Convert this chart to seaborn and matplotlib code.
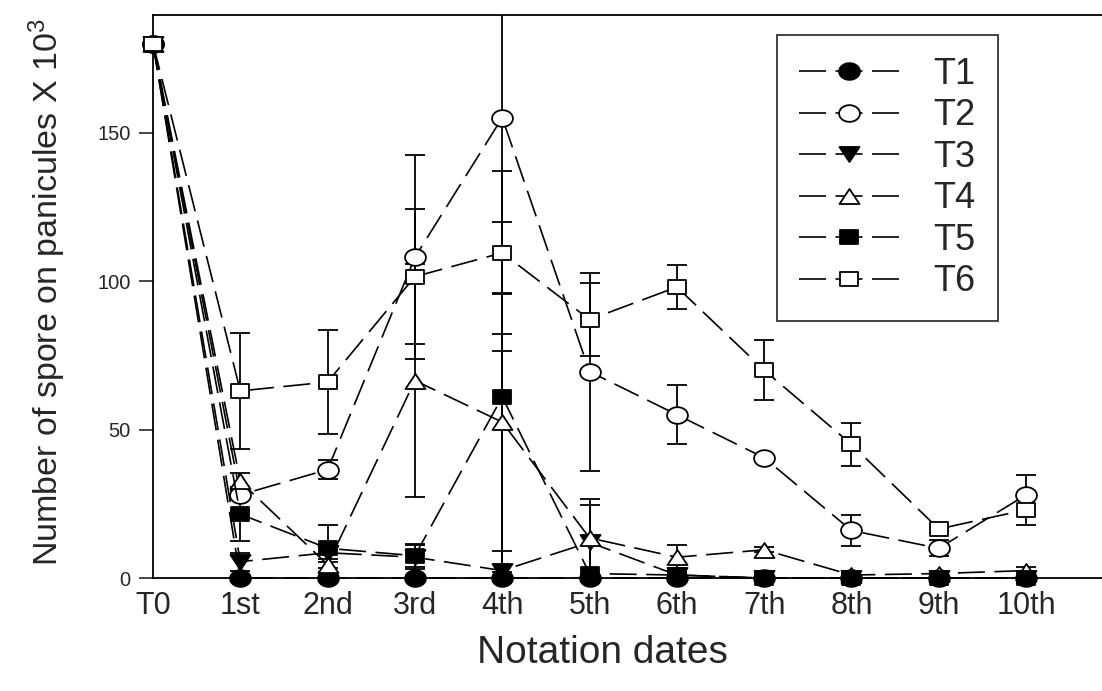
import matplotlib
matplotlib.use("Agg")
import matplotlib.pyplot as plt
from matplotlib.path import Path
import seaborn as sns
import numpy as np
import pandas as pd

# ---- data ----
dates = ["T0", "1st", "2nd", "3rd", "4th", "5th", "6th", "7th", "8th", "9th", "10th"]
T1 = [180, 0, 0, 0, 0, 0, 0, 0, 0, 0, 0]
T1_err = [0, 0, 0, 0, 0, 0, 0, 0, 0, 0, 0]
T2 = [180, 28, 36.5, 108, 155, 69.5, 55, 40.5, 16, 10, 28]
T2_err = [0, 0, 3.3, 34.4, 59.5, 33.3, 10, 0, 5.3, 2.7, 6.7]
T3 = [180, 5.5, 8.5, 7, 2.5, 12, 1, 0, 0, 0, 0]
T3_err = [0, 3, 2, 4, 74, 12.6, 0.5, 0, 0, 0, 0]
T4 = [180, 32.5, 4.5, 66.5, 52.5, 13.5, 7, 9.5, 1, 1.5, 2.5]
T4_err = [0, 3, 1, 39.3, 43.4, 13.1, 4, 0.8, 0, 0, 1.3]
T5 = [180, 21.5, 10, 7.5, 61, 1.5, 1, 0, 0, 0, 0]
T5_err = [0, 9, 8, 3.9, 59, 0, 0, 0, 0, 0, 0]
T6 = [180, 63, 66, 101.5, 109.5, 87, 98, 70, 45, 16.5, 23]
T6_err = [0, 19.5, 17.5, 22.7, 27.4, 12.4, 7.5, 10, 7.3, 0, 5]
treatments = ["T1", "T2", "T3", "T4", "T5", "T6"]
y_ticks = [0, 50, 100, 150]

means = {"T1": T1, "T2": T2, "T3": T3, "T4": T4, "T5": T5, "T6": T6}
errs = {"T1": T1_err, "T2": T2_err, "T3": T3_err, "T4": T4_err, "T5": T5_err, "T6": T6_err}

rows = []
for t in treatments:
    for i, d in enumerate(dates):
        rows.append({"treatment": t, "pos": i, "date": d, "value": means[t][i], "err": errs[t][i]})
df = pd.DataFrame(rows)

sns.set_theme(style="ticks")
plt.rcParams["font.family"] = ["Liberation Sans", "DejaVu Sans"]
plt.rcParams["mathtext.default"] = "regular"

# slightly wide marker shapes (reference glyphs are horizontally stretched)
th = np.linspace(0, 2 * np.pi, 73)
ellipse = Path(np.column_stack([1.25 * np.cos(th), np.sin(th)]), closed=True)
rect = Path([(-1.2, -1), (1.2, -1), (1.2, 1), (-1.2, 1), (-1.2, -1)], closed=True)
tri_up = Path([(0, 1), (-1.33, -1), (1.33, -1), (0, 1)], closed=True)
tri_dn = Path([(0, -1), (-1.33, 1), (1.33, 1), (0, -1)], closed=True)

style = {
    "T1": dict(marker=ellipse, mfc="black", ms=15),
    "T2": dict(marker=ellipse, mfc="white", ms=15),
    "T3": dict(marker=tri_dn, mfc="black", ms=14.4),
    "T4": dict(marker=tri_up, mfc="white", ms=14.4),
    "T5": dict(marker=rect, mfc="black", ms=12.7),
    "T6": dict(marker=rect, mfc="white", ms=12.7),
}
dash = (16.2, 5.7)

fig = plt.figure(figsize=(11.02, 6.91), dpi=100)
W, H = 1102, 691
ax = fig.add_axes([153 / W, (H - 578) / H, (W - 153) / W, (578 - 15) / H])

# error bars first (under markers)
for t in treatments:
    sub = df[df.treatment == t]
    sub = sub[sub.err > 0]
    ax.errorbar(sub["pos"], sub["value"], yerr=sub["err"], fmt="none",
                ecolor="black", elinewidth=1.3, capsize=7.2, capthick=1.3, zorder=2)

for k, t in enumerate(treatments):
    sub = df[df.treatment == t]
    sns.lineplot(data=sub, x="pos", y="value", ax=ax, color="black", lw=1.2,
                 marker=style[t]["marker"], markersize=style[t]["ms"],
                 markerfacecolor=style[t]["mfc"], markeredgecolor="black",
                 markeredgewidth=1.3, dashes=False, label=t, zorder=3 + k,
                 clip_on=False, errorbar=None)
    ax.lines[-1].set_dashes(dash)

ax.set_xlim(0, 10.87)
ax.set_ylim(0, 189.6)
ax.set_yticks(y_ticks)
ax.set_xticks(range(len(dates)))
ax.set_xticklabels(dates)
ax.tick_params(axis="y", direction="out", length=10, width=1.2, labelsize=14.5, pad=6)
ax.tick_params(axis="x", length=0, labelsize=22, pad=9)
for s in ["left", "top", "bottom"]:
    ax.spines[s].set_linewidth(1.3)
    ax.spines[s].set_color("black")
ax.spines["right"].set_visible(False)

ax.set_xlabel("Notation dates", fontsize=28)
ax.xaxis.set_label_coords((602 - 153) / (W - 153), -(653 - 578) / (578 - 15))
ax.xaxis.label.set_va("center")
ax.set_ylabel("Number of spore on panicules X 10$^{3}$", fontsize=24.5)
ax.yaxis.set_label_coords(-(153 - 47) / (W - 153), (578 - 292) / (578 - 15))
ax.yaxis.label.set_va("center")

handles, labels = ax.get_legend_handles_labels()
for h in handles:
    h.set_dashes(dash)
leg = ax.legend(handles, labels, loc="upper left",
                bbox_to_anchor=((777 - 153) / (W - 153), 1 - (35 - 15) / (578 - 15)),
                frameon=True, fontsize=26, handlelength=2.77, handletextpad=0.97,
                labelspacing=0.18, borderpad=0.6, borderaxespad=0, fancybox=False)
leg.get_frame().set_edgecolor("black")
leg.get_frame().set_linewidth(1.3)

fig.savefig("out.png", dpi=100)
